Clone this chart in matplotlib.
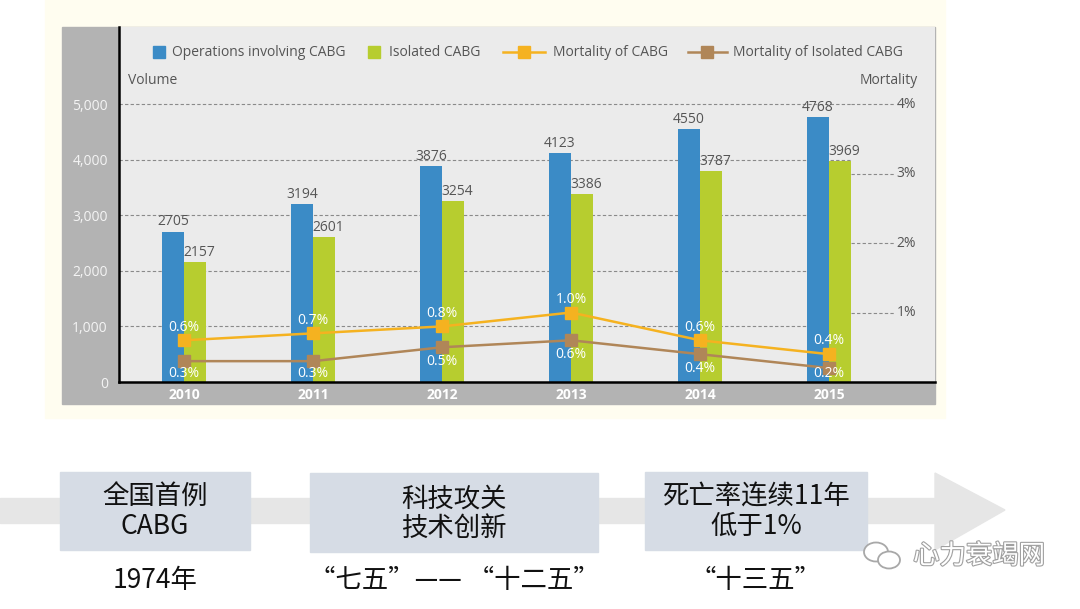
import matplotlib
matplotlib.use('Agg')
import matplotlib.pyplot as plt
from matplotlib.patches import Rectangle, Polygon, Ellipse
import matplotlib.patheffects as pe
import numpy as np

plt.rcParams['font.family'] = ['Open Sans', 'Noto Sans CJK SC', 'DejaVu Sans']

# data
years = ['2010', '2011', '2012', '2013', '2014', '2015']
ops = [2705, 3194, 3876, 4123, 4550, 4768]
iso = [2157, 2601, 3254, 3386, 3787, 3969]
mort = [0.6, 0.7, 0.8, 1.0, 0.6, 0.4]
mort_iso = [0.3, 0.3, 0.5, 0.6, 0.4, 0.2]
vol_ticks = [0, 1000, 2000, 3000, 4000, 5000]
pct_ticks = [1, 2, 3, 4]
series_names = ['Operations involving CABG', 'Isolated CABG', 'Mortality of CABG',
                'Mortality of Isolated CABG']

stages = ['全国首例\nCABG', '科技攻关\n技术创新', '死亡率连续11年\n低于1%']
periods = ['1974年', '“七五”—— “十二五”', '“十三五”']

blue = '#3b8bc6'
green = '#b7cd2f'
orange = '#f5b220'
brown = '#b08658'
cjk = ['Noto Sans CJK SC', 'DejaVu Sans']

W, H = 1080, 609
fig = plt.figure(figsize=(W / 100, H / 100), dpi=100)
fig.patch.set_facecolor('white')

# background / decoration layer in pixel coords
bg = fig.add_axes([0, 0, 1, 1], zorder=0)
bg.set_xlim(0, W)
bg.set_ylim(H, 0)
bg.axis('off')
bg.add_patch(Rectangle((45, 0), 900, 418, color='#fffdf0'))
bg.add_patch(Rectangle((62, 27), 873, 377, color='#b3b3b3'))

# bottom timeline
bg.add_patch(Rectangle((0, 498), 935, 25, color='#e6e6e6'))
bg.add_patch(Polygon([[935, 473], [1005, 510], [935, 550]], closed=True, color='#e6e6e6'))
boxes = [(60, 472, 190, 78), (310, 473, 288, 79), (645, 472, 222, 78)]
for (bx, by, bw_, bh), s, p in zip(boxes, stages, periods):
    bg.add_patch(Rectangle((bx, by), bw_, bh, color='#d6dce5'))
    bg.text(bx + bw_ / 2, by + bh / 2 + 1, s, ha='center', va='center', fontsize=19,
            linespacing=1.12, family=cjk, color='#111111')
    bg.text(bx + bw_ / 2, 580, p, ha='center', va='center', fontsize=19,
            family=cjk, color='#111111')

# watermark
wm = [pe.withStroke(linewidth=1.6, foreground='#a0a0a0')]
bg.text(1045, 556, '心力衰竭网', ha='right', va='center', fontsize=19,
        family=cjk, color='white', path_effects=wm)
bg.add_patch(Ellipse((876, 552), 24, 19, facecolor='white', edgecolor='#a8a8a8', lw=1.3))
bg.add_patch(Ellipse((889, 560), 22, 17, facecolor='white', edgecolor='#a8a8a8', lw=1.3))

# main chart
ax = fig.add_axes([119 / W, 1 - 382 / H, 816 / W, 355 / H], zorder=1)
ax.set_facecolor('#ebebeb')
x = np.arange(len(years))
bw = 0.172
top = 6385
ax.set_xlim(-0.504, 5.82)
ax.set_ylim(0, top)

ax.hlines(vol_ticks[1:], -0.504, 5.17, colors='#8a8a8a', linestyles=(0, (3, 2)), lw=0.8, zorder=1)
ax.bar(x - bw / 2, ops, bw, color=blue, zorder=2)
ax.bar(x + bw / 2, iso, bw, color=green, zorder=2)
for i in range(len(years)):
    ax.text(x[i] - bw / 2, ops[i] + 40, str(ops[i]), ha='center', va='bottom',
            fontsize=10, color='#555555', zorder=4)
    ax.text(x[i] + bw / 2 + 0.03, iso[i] + 40, str(iso[i]), ha='center', va='bottom',
            fontsize=10, color='#555555', zorder=4)

ax.set_xticks(x)
ax.set_xticklabels(years, fontsize=10, fontweight='bold', color='white')
ax.tick_params(axis='x', length=0, pad=4)
ax.set_yticks(vol_ticks)
ax.set_yticklabels([f'{v:,}' for v in vol_ticks], fontsize=10, color='#f4f4f4')
ax.tick_params(axis='y', length=0, pad=8)
for s in ['top', 'right']:
    ax.spines[s].set_visible(False)
for s in ['left', 'bottom']:
    ax.spines[s].set_linewidth(1.8)
    ax.spines[s].set_color('black')

ax.text(9 / 816, (382 - 80) / 355, 'Volume', transform=ax.transAxes, ha='left', va='center',
        fontsize=10, color='#555555')
ax.text((918 - 119) / 816, (382 - 80) / 355, 'Mortality', transform=ax.transAxes, ha='right',
        va='center', fontsize=10, color='#555555')

# mortality on second scale (4% aligned with 5,000)
ax2 = ax.twinx()
ax2.set_ylim(0, top / 1250)
ax2.axis('off')
ax2.hlines(pct_ticks, 5.17, 5.5, colors='#8a8a8a', linestyles=(0, (3, 2)), lw=0.8)
for p in pct_ticks:
    ax2.text(5.52, p, f'{p}%', ha='left', va='center', fontsize=10, color='#555555')
ax2.plot(x, mort, color=orange, lw=1.8, marker='s', ms=9, zorder=5)
ax2.plot(x, mort_iso, color=brown, lw=1.8, marker='s', ms=9, zorder=5)
for i in range(len(years)):
    ax2.text(x[i], mort[i] + 0.19, f'{mort[i]:.1f}%', ha='center', va='center',
             fontsize=10, color='white', zorder=6)
    # label below the brown point, kept inside the plot
    ax2.text(x[i], max(mort_iso[i] - 0.2, 0.12), f'{mort_iso[i]:.1f}%', ha='center',
             va='center', fontsize=10, color='white', zorder=6)

# legend drawn in pixel coords on top
fg = fig.add_axes([0, 0, 1, 1], zorder=3)
fg.set_xlim(0, W)
fg.set_ylim(H, 0)
fg.axis('off')
ly = 52
fg.add_patch(Rectangle((153, ly - 6), 12, 12, color=blue))
fg.add_patch(Rectangle((368, ly - 6), 12, 12, color=green))
fg.plot([503, 545], [ly, ly], color=orange, lw=1.8)
fg.plot([524], [ly], color=orange, marker='s', ms=9)
fg.plot([688, 727], [ly, ly], color=brown, lw=1.8)
fg.plot([707], [ly], color=brown, marker='s', ms=9)
for tx, name in zip([172, 389, 553, 733], series_names):
    fg.text(tx, ly, name, ha='left', va='center', fontsize=10, color='#555555')

fig.savefig('out.png', dpi=100)
